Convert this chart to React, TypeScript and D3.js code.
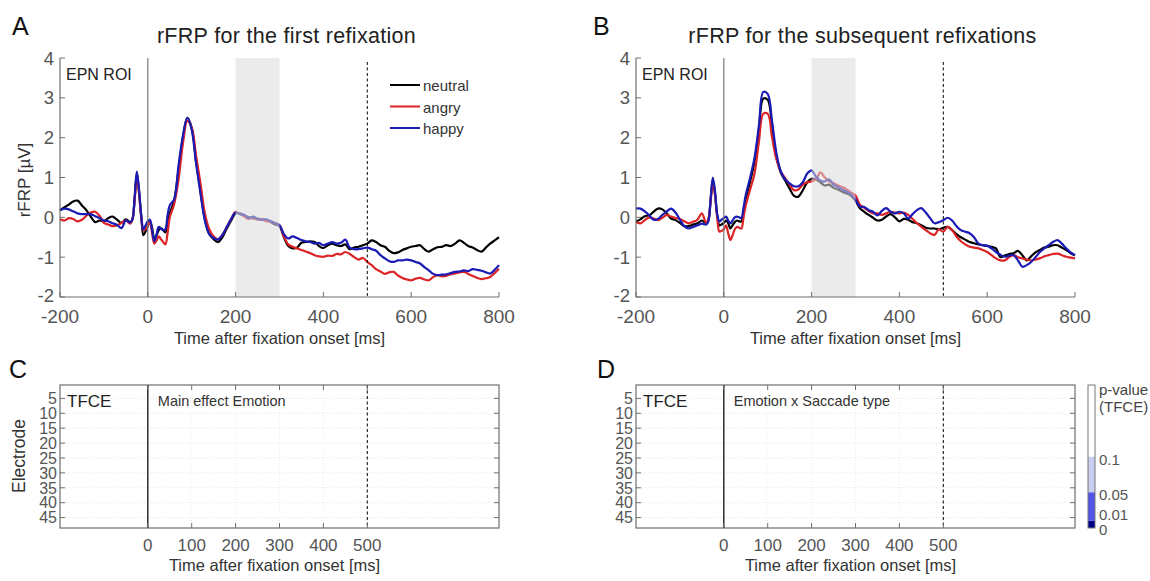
import React from 'react';
import * as d3 from 'd3';

// ---------- time grid (ms) ----------
const TIME: number[] = [
  ...d3.range(-200, -39, 10), // -200 .. -40
  ...d3.range(-35, 46, 5),    // -35 .. 45
  ...d3.range(50, 801, 10),   // 50 .. 800
];

// ---------- Panel A: first refixation (µV) ----------
const A_NEUTRAL = [
  0.18, 0.25, 0.32, 0.4, 0.42, 0.3, 0.18, 0.02, -0.12, -0.08,
  -0.1, -0.02, 0.02, -0.06, -0.14, -0.05, -0.12,
  -0.05, 0.45, 1.1, 0.65, 0.05, -0.45, -0.35, -0.22, -0.1, -0.28,
  -0.55, -0.45, -0.32, -0.27, -0.32, -0.38, -0.15,
  0.1, 0.42, 1.2, 2.0, 2.5, 2.25, 1.4, 0.65, -0.05, -0.42,
  -0.55, -0.62, -0.5, -0.28, -0.08, 0.1, 0.1, 0.05, 0.0, -0.03,
  -0.03, -0.06, -0.07, -0.12, -0.18, -0.22, -0.5, -0.72, -0.78, -0.76,
  -0.64, -0.62, -0.6, -0.62, -0.72, -0.77, -0.7, -0.66, -0.7, -0.72,
  -0.68, -0.8, -0.76, -0.74, -0.7, -0.66, -0.58, -0.62, -0.7, -0.74,
  -0.84, -0.9, -0.88, -0.82, -0.78, -0.74, -0.72, -0.7, -0.8, -0.86,
  -0.8, -0.75, -0.74, -0.7, -0.72, -0.66, -0.58, -0.64, -0.72, -0.76,
  -0.82, -0.86, -0.76, -0.66, -0.58, -0.5,
];
const A_ANGRY = [
  -0.05, -0.08, -0.02, -0.04, -0.1, -0.06, 0.04, 0.12, 0.14, 0.04,
  -0.14, -0.18, -0.22, -0.2, -0.14, -0.08, -0.16,
  -0.05, 0.45, 1.05, 0.6, 0.0, -0.32, -0.3, -0.2, -0.12, -0.42,
  -0.66, -0.58, -0.48, -0.55, -0.62, -0.68, -0.4,
  0.0, 0.33, 0.95, 1.85, 2.42, 2.25, 1.55, 0.85, 0.1, -0.3,
  -0.48, -0.55, -0.44, -0.24, -0.04, 0.14, 0.08, 0.02, -0.04, 0.0,
  -0.06, -0.04, -0.1, -0.1, -0.14, -0.2, -0.48, -0.68, -0.74, -0.78,
  -0.82, -0.86, -0.9, -0.95, -0.98, -0.99, -0.96, -0.97, -0.92, -0.93,
  -0.87, -0.92, -1.0, -1.06, -1.02, -1.12, -1.2, -1.3, -1.36, -1.42,
  -1.38, -1.37, -1.46, -1.52, -1.56, -1.58, -1.54, -1.52, -1.56, -1.58,
  -1.5, -1.45, -1.48, -1.47, -1.43, -1.41, -1.38, -1.37, -1.42, -1.47,
  -1.52, -1.55, -1.53, -1.5, -1.4, -1.29,
];
const A_HAPPY = [
  0.18, 0.22, 0.2, 0.15, 0.1, 0.08, 0.08, 0.08, 0.03, -0.02,
  -0.08, -0.1, -0.15, -0.19, -0.27, -0.08, -0.13,
  -0.05, 0.5, 1.15, 0.7, 0.05, -0.3, -0.2, -0.1, -0.06, -0.35,
  -0.6, -0.42, -0.24, -0.28, -0.32, -0.3, 0.05,
  0.3, 0.45, 1.3, 2.05, 2.5, 2.2, 1.35, 0.6, -0.08, -0.42,
  -0.52, -0.56, -0.44, -0.24, -0.04, 0.12, 0.08, 0.06, -0.02, 0.02,
  -0.04, -0.06, -0.05, -0.1, -0.15, -0.2, -0.42, -0.53, -0.48, -0.52,
  -0.57, -0.6, -0.62, -0.66, -0.64, -0.7, -0.66, -0.62, -0.66, -0.64,
  -0.56, -0.76, -0.8, -0.8, -0.78, -0.76, -0.8, -0.84, -0.95, -1.03,
  -1.1, -1.12, -1.08, -1.08, -1.06, -1.08, -1.12, -1.16, -1.25, -1.33,
  -1.42, -1.45, -1.44, -1.43, -1.4, -1.37, -1.36, -1.33, -1.35, -1.3,
  -1.32, -1.34, -1.38, -1.41, -1.32, -1.2,
];

// ---------- Panel B: subsequent refixations (µV) ----------
const B_NEUTRAL = [
  -0.11, -0.05, 0.03, 0.05, 0.14, 0.22, 0.2, 0.1, -0.03, -0.07,
  -0.14, -0.22, -0.22, -0.18, -0.15, -0.08, -0.14,
  -0.05, 0.45, 0.95, 0.6, 0.05, -0.2, -0.18, -0.14, -0.08, -0.15,
  -0.28, -0.2, -0.12, -0.08, -0.1, -0.1, 0.15,
  0.45, 0.9, 1.4, 2.2, 2.98, 2.95, 2.3, 1.5, 1.12, 0.92,
  0.72, 0.54, 0.52, 0.68, 0.88, 0.97, 0.95, 0.88, 0.8, 0.82,
  0.74, 0.7, 0.64, 0.6, 0.54, 0.42, 0.23, 0.14, 0.06, -0.01,
  -0.08, -0.06, 0.02, 0.08, 0.0, -0.1, -0.04, -0.06, -0.12, -0.15,
  -0.2, -0.26, -0.28, -0.28, -0.3, -0.26, -0.24, -0.32, -0.42, -0.5,
  -0.56, -0.62, -0.65, -0.68, -0.7, -0.72, -0.74, -0.78, -1.0, -0.96,
  -0.92, -0.9, -0.84, -0.95, -1.08, -0.98, -0.88, -0.82, -0.76, -0.74,
  -0.7, -0.7, -0.76, -0.82, -0.9, -0.95,
];
const B_ANGRY = [
  -0.12, -0.15, -0.07, 0.0, -0.03, -0.07, -0.01, 0.06, 0.02, -0.02,
  -0.04, -0.1, -0.15, -0.11, -0.06, 0.1, -0.15,
  -0.05, 0.4, 0.9, 0.55, 0.0, -0.36, -0.34, -0.3, -0.2, -0.4,
  -0.57, -0.45, -0.3, -0.24, -0.26, -0.28, 0.0,
  0.3, 0.7, 1.1, 1.9, 2.6, 2.6, 2.0, 1.45, 1.15, 0.98,
  0.82, 0.68, 0.7, 0.82, 0.88, 0.9, 0.95, 1.13, 1.0, 0.9,
  0.86, 0.8, 0.76, 0.7, 0.62, 0.55, 0.32, 0.24, 0.16, 0.1,
  0.1, 0.06, 0.1, 0.14, 0.12, 0.1, 0.12, 0.06, -0.04, -0.15,
  -0.24, -0.32, -0.4, -0.44, -0.3, -0.36, -0.24, -0.32, -0.48, -0.6,
  -0.68, -0.74, -0.76, -0.78, -0.82, -0.87, -0.95, -1.03, -1.08, -1.08,
  -1.0, -0.95, -1.0, -1.03, -1.06, -1.08, -1.06, -1.03, -0.98, -0.95,
  -0.92, -0.91, -0.95, -0.99, -1.01, -1.03,
];
const B_HAPPY = [
  0.22, 0.22, 0.15, 0.05, -0.06, -0.04, 0.06, 0.15, 0.22, 0.12,
  -0.06, -0.22, -0.28, -0.24, -0.2, -0.16, -0.18,
  -0.1, 0.45, 1.0, 0.65, 0.08, -0.1, -0.06, -0.02, 0.02, -0.08,
  -0.15, -0.08, 0.0, 0.02, 0.0, -0.02, 0.25,
  0.56, 1.0, 1.5, 2.3, 3.15, 3.1, 2.4, 1.6, 1.15, 0.95,
  0.85, 0.78, 0.78, 0.88, 1.1, 1.18, 1.02, 0.92, 0.9, 0.95,
  0.82, 0.76, 0.7, 0.64, 0.58, 0.45, 0.27, 0.26, 0.18, 0.14,
  0.05, 0.16, 0.23, 0.14, 0.1, 0.14, 0.1, -0.03, 0.08, 0.18,
  0.23, 0.12, -0.02, -0.15, -0.12, -0.07, -0.01, -0.08, -0.22, -0.32,
  -0.36, -0.4, -0.5, -0.66, -0.7, -0.71, -0.78, -0.87, -0.94, -0.99,
  -0.96, -0.95, -1.08, -1.24, -1.2, -1.12, -1.0, -0.87, -0.78, -0.7,
  -0.62, -0.57, -0.66, -0.78, -0.88, -0.95,
];

const SERIES_NAMES = ['neutral', 'angry', 'happy'];
const SERIES_COLORS = ['#000000', '#dc2326', '#1a1ab4'];

const Y_TICKS = [-2, -1, 0, 1, 2, 3, 4];
const X_TICKS = [-200, 0, 200, 400, 600, 800];
const SHADE = [200, 300];
const DASH_T = 500;

const ELEC_TICKS = [5, 10, 15, 20, 25, 30, 35, 40, 45];
const TFCE_X_TICKS = [0, 100, 200, 300, 400, 500];

const CB_BOUNDS = [0, 0.01, 0.05, 0.1, 0.2];
const CB_COLORS = ['#000084', '#5252e6', '#c9cdf0', '#ffffff'];
const CB_LABELS = ['0.1', '0.05', '0.01', '0'];
const CB_LABEL_VALUES = [0.1, 0.05, 0.01, 0];
const CB_LABEL_DY = [3, 2, -6, 2];

const FONT = '"Liberation Sans", Arial, Helvetica, sans-serif';
const AX = '#6e6e6e';
const TICKTXT = '#555';

type TopProps = {
  left: number; right: number; series: number[][]; title: string; letter: string;
  letterX: number; legend?: boolean; yLabel?: boolean;
};

function TopPanel({ left, right, series, title, letter, letterX, legend, yLabel }: TopProps) {
  const x = d3.scaleLinear().domain([-200, 800]).range([left, right]);
  const y = d3.scaleLinear().domain([-2, 4]).range([297, 58]);
  const line = d3.line<number>()
    .x((_, i) => x(TIME[i]))
    .y((d) => y(d))
    .curve(d3.curveCatmullRom.alpha(0.5));
  const cx = (left + right) / 2;
  return (
    <g>
      <text x={letterX} y={35} fontSize={25} fill="#111">{letter}</text>
      <text x={cx + 7} y={43} fontSize={21.5} fill="#222" textAnchor="middle" letterSpacing={0.3}>{title}</text>
      {series.map((s, k) => (
        <path key={k} d={line(s) || ''} fill="none" stroke={SERIES_COLORS[k]} strokeWidth={2.2} strokeLinejoin="round" />
      ))}
      <rect x={x(SHADE[0])} y={y(4)} width={x(SHADE[1]) - x(SHADE[0])} height={y(-2) - y(4)} fill="#dadada" opacity={0.55} />
      <line x1={x(0)} x2={x(0)} y1={y(4)} y2={y(-2)} stroke="#777" strokeWidth={1.2} />
      <line x1={x(DASH_T)} x2={x(DASH_T)} y1={y(3.9)} y2={y(-2)} stroke="#000" strokeWidth={1} strokeDasharray="3,2.5" />
      <line x1={left} x2={left} y1={y(4)} y2={y(-2)} stroke={AX} strokeWidth={1.2} />
      <line x1={left} x2={right} y1={y(-2)} y2={y(-2)} stroke={AX} strokeWidth={1.2} />
      {Y_TICKS.map((t) => (
        <g key={'y' + t}>
          <line x1={left} x2={left + 5} y1={y(t)} y2={y(t)} stroke={AX} strokeWidth={1} />
          <text x={left - 6} y={y(t) - (t === -2 ? 2 : 0)} dy="0.36em" fontSize={18.5} fill={TICKTXT} textAnchor="end">{t}</text>
        </g>
      ))}
      {X_TICKS.map((t) => (
        <g key={'x' + t}>
          <line x1={x(t)} x2={x(t)} y1={y(-2)} y2={y(-2) - 5} stroke={AX} strokeWidth={1} />
          <text x={x(t)} y={323} fontSize={19} fill={TICKTXT} textAnchor="middle">{t}</text>
        </g>
      ))}
      <text x={left + 6} y={80} fontSize={16} fill="#222">EPN ROI</text>
      <text x={cx} y={344} fontSize={16.5} fill="#333" textAnchor="middle">Time after fixation onset [ms]</text>
      {yLabel && (
        <text transform={`translate(30,180) rotate(-90)`} fontSize={17} fill="#333" textAnchor="middle">rFRP [µV]</text>
      )}
      {legend && SERIES_NAMES.map((n, k) => (
        <g key={n}>
          <line x1={390} x2={420} y1={85 + k * 21.5} y2={85 + k * 21.5} stroke={SERIES_COLORS[k]} strokeWidth={2} />
          <text x={423} y={91 + k * 21.5} fontSize={15} fill="#333">{n}</text>
        </g>
      ))}
    </g>
  );
}

type BottomProps = { left: number; right: number; letter: string; letterX: number; effect: string; yLabel?: boolean };

function BottomPanel({ left, right, letter, letterX, effect, yLabel }: BottomProps) {
  const x = d3.scaleLinear().domain([-200, 800]).range([left, right]);
  const y = d3.scaleLinear().domain([0.5, 48.5]).range([385, 528]);
  const top = y(0.5), bot = y(48.5);
  return (
    <g>
      <text x={letterX} y={378} fontSize={25} fill="#111">{letter}</text>
      {ELEC_TICKS.map((t) => (
        <line key={'gy' + t} x1={left} x2={right} y1={y(t)} y2={y(t)} stroke="#e4e4e4" strokeWidth={1} strokeDasharray="1,2" />
      ))}
      {TFCE_X_TICKS.map((t) => (
        <line key={'gx' + t} x1={x(t)} x2={x(t)} y1={top} y2={bot} stroke="#ececec" strokeWidth={1} strokeDasharray="1,2" />
      ))}
      <rect x={left} y={top} width={right - left} height={bot - top} fill="none" stroke={AX} strokeWidth={1.2} />
      <line x1={x(0)} x2={x(0)} y1={top} y2={bot} stroke="#111" strokeWidth={1.3} />
      <line x1={x(DASH_T)} x2={x(DASH_T)} y1={top} y2={bot} stroke="#000" strokeWidth={1} strokeDasharray="3,2.5" />
      {ELEC_TICKS.map((t) => (
        <g key={'ey' + t}>
          <line x1={left} x2={left + 5} y1={y(t)} y2={y(t)} stroke={AX} strokeWidth={1} />
          <line x1={right} x2={right - 5} y1={y(t)} y2={y(t)} stroke={AX} strokeWidth={1} />
          <text x={left - 3} y={y(t)} dy="0.36em" fontSize={16} fill={TICKTXT} textAnchor="end">{t}</text>
        </g>
      ))}
      {TFCE_X_TICKS.map((t) => (
        <g key={'ex' + t}>
          <line x1={x(t)} x2={x(t)} y1={top} y2={top + 5} stroke={AX} strokeWidth={1} />
          <line x1={x(t)} x2={x(t)} y1={bot} y2={bot - 5} stroke={AX} strokeWidth={1} />
          <text x={x(t)} y={551} fontSize={17} fill={TICKTXT} textAnchor="middle">{t}</text>
        </g>
      ))}
      <text x={left + 7} y={407} fontSize={17} fill="#222">TFCE</text>
      <text x={x(0) + 10} y={406} fontSize={14.5} fill="#333">{effect}</text>
      <text x={(left + right) / 2 - 5} y={571} fontSize={16.5} fill="#333" textAnchor="middle">Time after fixation onset [ms]</text>
      {yLabel && (
        <text transform={`translate(25,456) rotate(-90)`} fontSize={17.5} fill="#333" textAnchor="middle">Electrode</text>
      )}
    </g>
  );
}

function ColorBar() {
  const y = d3.scaleLinear().domain([0, 0.2]).range([528, 385]);
  const x0 = 1088, w = 7;
  return (
    <g>
      {CB_COLORS.map((c, i) => (
        <rect key={i} x={x0} y={y(CB_BOUNDS[i + 1])} width={w} height={y(CB_BOUNDS[i]) - y(CB_BOUNDS[i + 1])} fill={c} />
      ))}
      <rect x={x0} y={y(0.2)} width={w} height={y(0) - y(0.2)} fill="none" stroke="#777" strokeWidth={1} />
      <text x={1099} y={395} fontSize={15} fill="#444">p-value</text>
      <text x={1099} y={412} fontSize={15} fill="#444">(TFCE)</text>
      {CB_LABELS.map((l, i) => (
        <text key={l} x={1099} y={y(CB_LABEL_VALUES[i]) + CB_LABEL_DY[i]} dy="0.36em" fontSize={15} fill="#555">{l}</text>
      ))}
    </g>
  );
}

export default function App() {
  return (
    <svg width={1150} height={581} style={{ display: 'block', position: 'absolute', left: 0, top: 0, background: '#fff' }} fontFamily={FONT}>
      <rect x={0} y={0} width={1150} height={581} fill="#fff" />
      <TopPanel left={60} right={499} series={[A_NEUTRAL, A_ANGRY, A_HAPPY]} title="rFRP for the first refixation" letter="A" letterX={12} legend yLabel />
      <TopPanel left={636} right={1075} series={[B_NEUTRAL, B_ANGRY, B_HAPPY]} title="rFRP for the subsequent refixations" letter="B" letterX={593} />
      <BottomPanel left={60} right={499} letter="C" letterX={9} effect="Main effect Emotion" yLabel />
      <BottomPanel left={636} right={1075} letter="D" letterX={597} effect="Emotion x Saccade type" />
      <ColorBar />
    </svg>
  );
}
